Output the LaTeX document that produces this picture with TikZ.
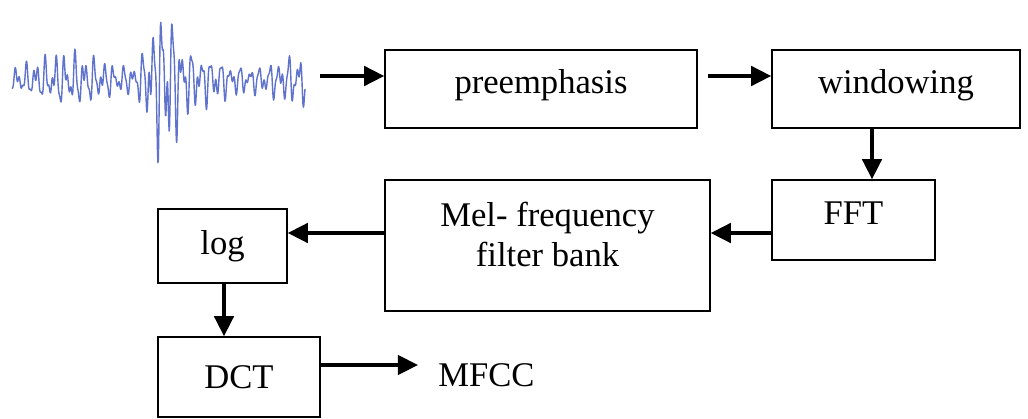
\documentclass[tikz,border=0pt]{standalone}
\usepackage{fontspec}
\setmainfont{Liberation Serif}
\usetikzlibrary{positioning,arrows.meta}

\begin{document}
\begin{tikzpicture}[
  x=0.02cm, y=-0.02cm,
  font=\fontsize{19.7}{23}\selectfont,
  block/.style={draw, line width=0.8pt, align=center, inner sep=3pt},
  arrow/.style={-{Triangle[length=11.5pt,width=11pt]}, line width=2.2pt},
  wave/.style={draw={rgb,255:red,95;green,115;blue,205}, line width=0.8pt, line join=round},
]
\useasboundingbox (0,0) rectangle (1028,419);

% Input signal
\draw[wave] plot[domain=-148:145, samples=700]
  ({\x+160}, {80 - (12 + 4*sin(\x*3) + 34*exp(-((\x-3)/17)^2))*(sin(\x*37) + 0.6*sin(\x*59+40) + 0.45*sin(\x*97+80))});
\coordinate (sig) at (320,76);

% Blocks
\node[block, minimum width=6.24cm, minimum height=1.56cm, text depth=9pt] (pre) at (541,89) {preemphasis};
\node[block, minimum width=4.96cm, minimum height=1.56cm, text depth=9pt] (win) at (896,89) {windowing};
\node[block, minimum width=3.26cm, minimum height=1.6cm, text depth=8pt] (fft) at (853.5,220) {FFT};
\node[block, minimum width=6.5cm, minimum height=2.62cm, text depth=13pt] (mel) at (547.5,245.5) {Mel- frequency\\filter bank};
\node[block, minimum width=2.58cm, minimum height=1.48cm] (log) at (222.5,246) {log};
\node[block, minimum width=3.24cm, minimum height=1.6cm] (dct) at (239,377) {DCT};
\node[inner sep=0pt, anchor=west] (mfcc) at (438,375) {MFCC};

% Flows
\draw[arrow] (sig) -- (sig -| pre.west);
\draw[arrow] ([xshift=0.2cm]pre.east |- sig) -- (sig -| win.west);
\draw[arrow] (win.south -| 872,0) -- (fft.north -| 872,0);
\draw[arrow] (fft.west |- 0,233) -- (mel.east |- 0,233);
\draw[arrow] (mel.west |- 0,233) -- (log.east |- 0,233);
\draw[arrow] (log.south -| 224,0) -- (dct.north -| 224,0);
\draw[arrow] (dct.east |- 0,365) -- ([xshift=-0.4cm]mfcc.west |- 0,365);
\end{tikzpicture}
\end{document}
